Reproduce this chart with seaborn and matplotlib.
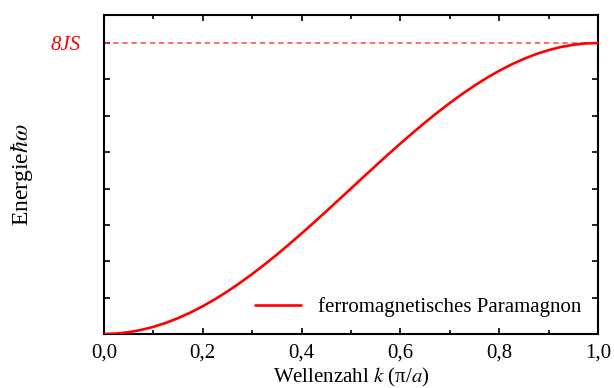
import matplotlib
matplotlib.use("Agg")
import matplotlib.pyplot as plt
import seaborn as sns
import pandas as pd
from matplotlib.ticker import MultipleLocator, FuncFormatter

# data (energy in units of JS)
k_values = [0.000, 0.025, 0.050, 0.075, 0.100, 0.125, 0.150, 0.175, 0.200, 0.225,
            0.250, 0.275, 0.300, 0.325, 0.350, 0.375, 0.400, 0.425, 0.450, 0.475,
            0.500, 0.525, 0.550, 0.575, 0.600, 0.625, 0.650, 0.675, 0.700, 0.725,
            0.750, 0.775, 0.800, 0.825, 0.850, 0.875, 0.900, 0.925, 0.950, 0.975, 1.000]
energy_values = [0.000, 0.012, 0.049, 0.111, 0.196, 0.305, 0.436, 0.589, 0.764, 0.958,
                 1.172, 1.402, 1.649, 1.910, 2.184, 2.469, 2.764, 3.066, 3.374, 3.686,
                 4.000, 4.314, 4.626, 4.934, 5.236, 5.531, 5.816, 6.090, 6.351, 6.598,
                 6.828, 7.042, 7.236, 7.411, 7.564, 7.696, 7.804, 7.890, 7.951, 7.988, 8.000]
series_name = "ferromagnetisches Paramagnon"
max_level = 8.0
max_label = "8JS"

df = pd.DataFrame({"k": k_values, "E": energy_values, "s": series_name})

sns.set_theme(style="ticks")
plt.rcParams["font.family"] = ["Liberation Serif", "DejaVu Serif"]
plt.rcParams["mathtext.fontset"] = "stix"
plt.rcParams["text.color"] = "black"
plt.rcParams["axes.labelcolor"] = "black"
plt.rcParams["xtick.color"] = "black"
plt.rcParams["ytick.color"] = "black"

fig = plt.figure(figsize=(6.14, 3.88), dpi=100)
ax = fig.add_axes([104/614, 1-334/388, (598-104)/614, (334-15)/388])

ax.axhline(max_level, color="#ff4545", lw=1.1, ls=(0, (3.5, 2.5)), zorder=1)
sns.lineplot(data=df, x="k", y="E", hue="s", palette=["#ff0000"], lw=1.9, ax=ax, zorder=3)

ax.set_xlim(0, 1.0)
ax.set_ylim(0, 8.77)
ax.xaxis.set_major_locator(MultipleLocator(0.2))
ax.xaxis.set_minor_locator(MultipleLocator(0.1))
ax.xaxis.set_major_formatter(FuncFormatter(lambda v, p: f"{v:.1f}".replace(".", ",")))
ax.set_yticks(range(0, 9))
ax.set_yticklabels([""] * 8 + [max_label])

for s in ax.spines.values():
    s.set_linewidth(1.5)
    s.set_color("black")
ax.tick_params(which="both", direction="in", top=True, right=True, colors="black",
               labelcolor="black", labelsize=15, width=1.2)
ax.tick_params(which="major", length=4)
ax.tick_params(which="minor", length=3)
ax.tick_params(axis="y", pad=17)
ax.tick_params(axis="x", pad=7)
top_lbl = ax.get_yticklabels()[-1]
top_lbl.set_color("#ff0000")
top_lbl.set_fontstyle("italic")

ax.set_xlabel("Wellenzahl $k$ (π/$a$)", fontsize=15, labelpad=2, color="black")
ax.set_ylabel(r"Energie$\hbar\omega$", fontsize=17, color="black")
ax.yaxis.set_label_coords(-0.14, 0.5)

ax.legend(loc="lower right", frameon=False, fontsize=15, handlelength=2.2,
          borderaxespad=0.4, bbox_to_anchor=(1.0, 0.0))

fig.savefig("out.png", dpi=100)
